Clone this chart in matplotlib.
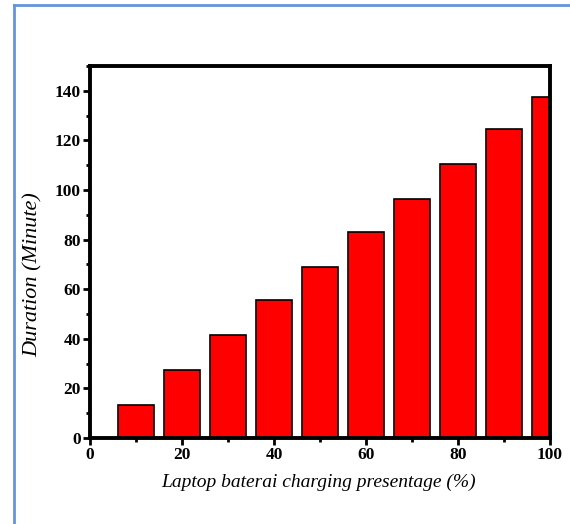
import numpy as np
import matplotlib.pyplot as plt
from matplotlib.lines import Line2D
from matplotlib.ticker import MultipleLocator

# charging percentage and duration
percent = [10, 20, 30, 40, 50, 60, 70, 80, 90, 100]
duration = [13.5, 27.5, 41.5, 55.5, 69, 83, 96.5, 110.5, 124.5, 137.5]

plt.rcParams['font.family'] = ['Liberation Serif', 'DejaVu Serif']

W, H = 570, 524
fig = plt.figure(figsize=(W/100, H/100), dpi=100)
ax = fig.add_axes([90/W, 1 - 438/H, (550-90)/W, (438-66)/H])

ax.bar(percent, duration, width=8, color='#ff0000', edgecolor='black', linewidth=1.2)

ax.set_xlim(0, 100)
ax.set_ylim(0, 150)
ax.xaxis.set_major_locator(MultipleLocator(20))
ax.xaxis.set_minor_locator(MultipleLocator(10))
ax.yaxis.set_major_locator(MultipleLocator(20))
ax.yaxis.set_minor_locator(MultipleLocator(10))
ax.tick_params(which='major', direction='out', length=5, width=2, labelsize=12.5, pad=1.5)
ax.tick_params(which='minor', direction='out', length=3, width=2)
for lab in ax.get_xticklabels() + ax.get_yticklabels():
    lab.set_fontweight('bold')
for s in ax.spines.values():
    s.set_linewidth(2.8)

ax.set_xlabel('Laptop baterai charging presentage (%)', fontsize=14, style='italic')
ax.set_ylabel('Duration (Minute)', fontsize=16, style='italic')
ax.xaxis.set_label_coords(0.496, -0.095)
ax.yaxis.set_label_coords(-0.102, 0.44)

# blue frame around the picture
fig.add_artist(Line2D([14/W, 14/W], [0, 1 - 5/H], color='#6495d8', lw=2))
fig.add_artist(Line2D([14/W, 1], [1 - 5/H, 1 - 5/H], color='#6495d8', lw=2))

fig.savefig('out.png', dpi=100)
